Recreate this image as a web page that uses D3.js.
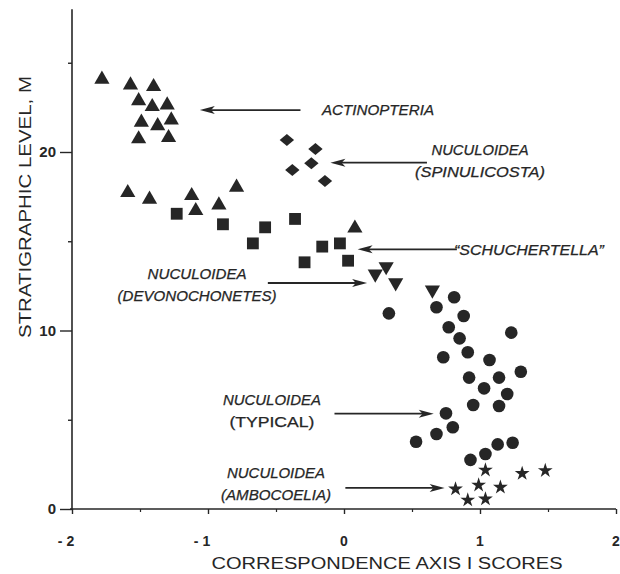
<!DOCTYPE html>
<html>
<head>
<meta charset="utf-8">
<script src="https://cdn.jsdelivr.net/npm/d3@7"></script>
<style>
  html, body { margin: 0; padding: 0; background: #fff; }
  svg { display: block; }
</style>
</head>
<body>
<svg id="chart" width="620" height="574"></svg>
<script>
// ---------- data (x = correspondence axis I score, y = stratigraphic level, m) ----------
const actinopteria = [
  [-1.78, 24.07], [-1.57, 23.75], [-1.40, 23.66], [-1.51, 22.87], [-1.41, 22.54],
  [-1.30, 22.63], [-1.49, 21.66], [-1.37, 21.47], [-1.27, 21.79], [-1.51, 20.73],
  [-1.29, 20.80],
  [-1.59, 17.72], [-1.43, 17.35], [-1.12, 17.55], [-1.09, 16.71], [-0.92, 17.03],
  [-0.79, 18.02], [0.08, 15.73]
];
const spinulicosta = [
  [-0.42, 20.67], [-0.21, 20.17], [-0.24, 19.37], [-0.38, 18.99], [-0.14, 18.38]
];
const schuchertella = [
  [-1.23, 16.54], [-0.89, 15.95], [-0.67, 14.88], [-0.58, 15.78], [-0.36, 16.25],
  [-0.16, 14.70], [-0.03, 14.88], [-0.29, 13.82], [0.03, 13.91]
];
const devonochonetes = [
  [0.23, 13.17], [0.31, 13.58], [0.38, 12.68], [0.65, 12.27]
];
const typical = [
  [0.33, 10.96], [0.81, 11.86], [0.68, 11.30], [0.88, 10.81], [0.77, 10.18],
  [0.85, 9.56], [1.23, 9.88], [0.73, 8.50], [0.91, 8.78], [1.07, 8.35],
  [1.30, 7.69], [0.92, 7.36], [1.14, 7.36], [1.03, 6.76], [1.20, 6.44],
  [0.95, 5.83], [1.14, 5.77], [0.75, 5.36], [0.80, 4.58], [0.68, 4.20],
  [0.53, 3.77], [0.93, 2.75], [1.04, 3.08], [1.13, 3.62], [1.24, 3.71]
];
const ambocoelia = [
  [1.04, 2.18], [1.31, 1.99], [1.48, 2.15], [0.82, 1.12], [0.99, 1.34],
  [1.15, 1.22], [0.91, 0.50], [1.04, 0.56]
];

const xTicks = [-2, -1, 0, 1, 2];
const xTickLabels = ["- 2", "- 1", "0", "1", "2"];
const xMinorTicks = [-1.5, -0.5, 0.5, 1.5];
const yTicks = [0, 10, 20];
const yMinorTicks = [5, 15, 25];

const xTitle = "CORRESPONDENCE AXIS I SCORES";
const yTitle = "STRATIGRAPHIC LEVEL, M";

// annotation labels (text lines) and their arrows, in data units
const annotations = [
  { lines: ["ACTINOPTERIA"], italic: [true], cx: 0.25, cy: 22.35, len: [112],
    from: -0.32, to: -1.06, ay: 22.35, anchor: "middle" },
  { lines: ["NUCULOIDEA", "(SPINULICOSTA)"], italic: [true, true], cx: 1.0, cy: 19.5, len: [97, 130],
    from: 0.61, to: -0.10, ay: 19.4, anchor: "middle" },
  { lines: ["\u201CSCHUCHERTELLA\u201D"], italic: [true], cx: 1.36, cy: 14.5, len: [150],
    from: 0.83, to: 0.10, ay: 14.55, anchor: "middle" },
  { lines: ["NUCULOIDEA", "(DEVONOCHONETES)"], italic: [true, true], cx: -1.08, cy: 12.55, len: [99, 159],
    from: -0.56, to: 0.17, ay: 12.66, anchor: "middle" },
  { lines: ["NUCULOIDEA", "(TYPICAL)"], italic: [true, false], cx: -0.53, cy: 5.5, len: [98, 85],
    from: -0.07, to: 0.66, ay: 5.34, anchor: "middle" },
  { lines: ["NUCULOIDEA", "(AMBOCOELIA)"], italic: [true, true], cx: -0.50, cy: 1.4, len: [98, 110],
    from: 0.01, to: 0.74, ay: 1.18, anchor: "middle" }
];

// ---------- layout ----------
const svg = d3.select("#chart");
const ink = "#262626";
const font = "'Liberation Sans', Arial, Helvetica, sans-serif";

const x = d3.scaleLinear().domain([-2, 2]).range([72, 616]);
const y = d3.scaleLinear().domain([0, 20]).range([509, 152]);
const yTop = 28;

// axes lines
svg.append("line").attr("x1", x(-2)).attr("x2", x(-2)).attr("y1", y(0)).attr("y2", y(yTop))
  .attr("stroke", ink).attr("stroke-width", 1.6);
svg.append("line").attr("x1", x(-2) - 2).attr("x2", x(2)).attr("y1", y(0)).attr("y2", y(0))
  .attr("stroke", ink).attr("stroke-width", 1.6);

// x axis ticks via d3 axis
const xAxis = d3.axisBottom(x).tickValues(xTicks).tickSize(5).tickFormat("");
const gx = svg.append("g").attr("transform", `translate(0,${y(0)})`).call(xAxis);
gx.select(".domain").remove();
gx.selectAll(".tick line").attr("stroke", ink).attr("stroke-width", 1.4);
svg.append("g").attr("transform", `translate(0,${y(0)})`)
  .call(d3.axisBottom(x).tickValues(xMinorTicks).tickSize(3).tickFormat(""))
  .call(g => g.select(".domain").remove())
  .call(g => g.selectAll(".tick line").attr("stroke", ink).attr("stroke-width", 1.2));

svg.append("g").selectAll("text").data(xTicks).join("text")
  .attr("x", (d, i) => x(d) + (xTickLabels[i].length > 1 ? -6 : 0))
  .attr("y", 546)
  .attr("text-anchor", "middle")
  .attr("font-family", font).attr("font-size", 14).attr("font-weight", "bold")
  .attr("fill", ink)
  .text((d, i) => xTickLabels[i]);

// y axis ticks
const gy = svg.append("g").attr("transform", `translate(${x(-2)},0)`)
  .call(d3.axisLeft(y).tickValues(yTicks).tickSize(12).tickPadding(4).tickFormat(d3.format("d")));
gy.select(".domain").remove();
gy.selectAll(".tick line").attr("stroke", ink).attr("stroke-width", 1.4);
gy.selectAll(".tick text").attr("font-family", font).attr("font-size", 15)
  .attr("font-weight", "bold").attr("fill", ink);
svg.append("g").attr("transform", `translate(${x(-2)},0)`)
  .call(d3.axisLeft(y).tickValues(yMinorTicks).tickSize(4).tickFormat(""))
  .call(g => g.select(".domain").remove())
  .call(g => g.selectAll(".tick line").attr("stroke", ink).attr("stroke-width", 1.4));

// axis titles
svg.append("text").attr("x", 387).attr("y", 569).attr("text-anchor", "middle")
  .attr("font-family", font).attr("font-size", 16).attr("fill", ink)
  .attr("textLength", 351).attr("lengthAdjust", "spacingAndGlyphs")
  .text(xTitle);
svg.append("text").attr("transform", "translate(31,207) rotate(-90)").attr("text-anchor", "middle")
  .attr("font-family", font).attr("font-size", 16).attr("fill", ink)
  .attr("textLength", 262).attr("lengthAdjust", "spacingAndGlyphs")
  .text(yTitle);

// ---------- markers ----------
const marks = svg.append("g").attr("fill", ink);
const sym = (type, size) => d3.symbol().type(type).size(size)();

marks.selectAll(".tri").data(actinopteria).join("path")
  .attr("transform", d => `translate(${x(d[0])},${y(d[1])})`)
  .attr("d", sym(d3.symbolTriangle, 100));

marks.selectAll(".dia").data(spinulicosta).join("path")
  .attr("transform", d => `translate(${x(d[0])},${y(d[1])}) scale(1.2,1.0) rotate(45)`)
  .attr("d", sym(d3.symbolSquare, 72));

marks.selectAll(".sq").data(schuchertella).join("path")
  .attr("transform", d => `translate(${x(d[0])},${y(d[1])})`)
  .attr("d", sym(d3.symbolSquare, 140));

marks.selectAll(".itri").data(devonochonetes).join("path")
  .attr("transform", d => `translate(${x(d[0])},${y(d[1])}) rotate(180)`)
  .attr("d", sym(d3.symbolTriangle, 100));

marks.selectAll(".circ").data(typical).join("path")
  .attr("transform", d => `translate(${x(d[0])},${y(d[1])})`)
  .attr("d", sym(d3.symbolCircle, 125));

marks.selectAll(".star").data(ambocoelia).join("path")
  .attr("transform", d => `translate(${x(d[0])},${y(d[1])})`)
  .attr("d", sym(d3.symbolStar, 68));

// ---------- annotations ----------
const ann = svg.append("g");
annotations.forEach(a => {
  const n = a.lines.length;
  a.lines.forEach((t, i) => {
    const cy = y(a.cy) + (i - (n - 1) / 2) * 22;
    ann.append("text")
      .attr("x", x(a.cx)).attr("y", cy + 5)
      .attr("text-anchor", a.anchor)
      .attr("font-family", font).attr("font-size", 14)
      .attr("font-style", a.italic[i] ? "italic" : "normal")
      .attr("fill", ink).attr("stroke", ink).attr("stroke-width", 0.25)
      .attr("textLength", a.len[i]).attr("lengthAdjust", "spacingAndGlyphs")
      .text(t);
  });
  const x1 = x(a.from), x2 = x(a.to), ay = y(a.ay);
  const dir = Math.sign(x2 - x1);
  const headLen = 15, headW = 4;
  ann.append("line").attr("x1", x1).attr("x2", x2 - dir * headLen * 0.6).attr("y1", ay).attr("y2", ay)
    .attr("stroke", ink).attr("stroke-width", 1.8);
  ann.append("path")
    .attr("d", `M${x2},${ay} L${x2 - dir * headLen},${ay - headW} L${x2 - dir * headLen * 0.75},${ay} L${x2 - dir * headLen},${ay + headW} Z`)
    .attr("fill", ink);
});
</script>
</body>
</html>
